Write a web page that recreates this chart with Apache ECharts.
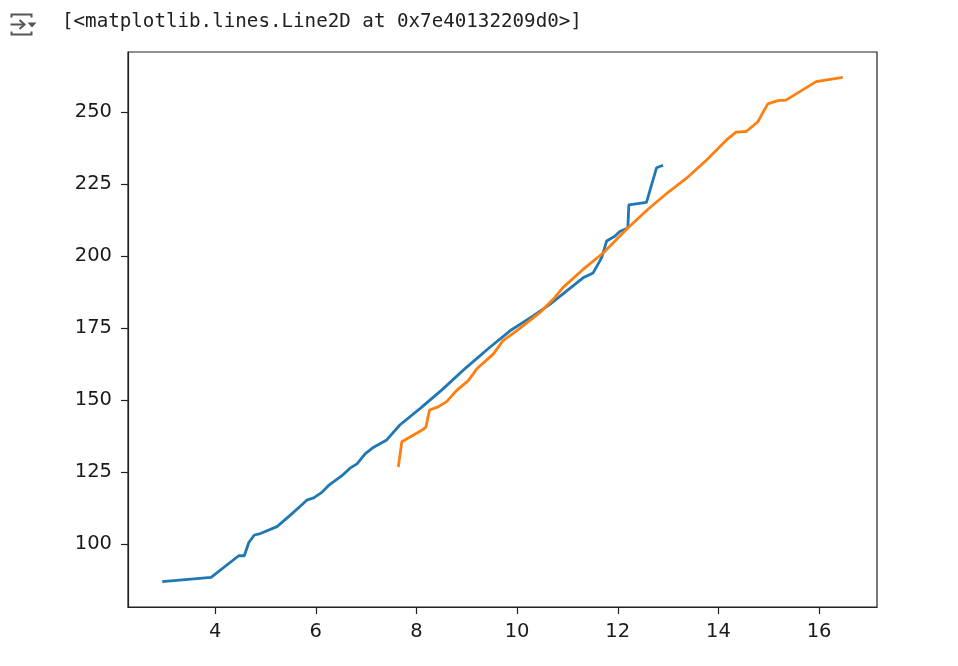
<!DOCTYPE html>
<html>
<head>
<meta charset="utf-8">
<script src="https://cdn.jsdelivr.net/npm/echarts@6/dist/echarts.min.js"></script>
<style>
html,body{margin:0;padding:0;background:#fff;}
#c{width:958px;height:666px;}
</style>
</head>
<body>
<div id="c"></div>
<script>
const headerText = "[<matplotlib.lines.Line2D at 0x7e40132209d0>]";
const xTicks = [4, 6, 8, 10, 12, 14, 16];
const yTicks = [100, 125, 150, 175, 200, 225, 250];
const blueSeries = [
  [2.95,87.0],[3.92,88.5],[4.47,96.0],[4.58,96.0],[4.67,100.6],[4.78,103.2],[4.90,103.7],
  [5.23,106.1],[5.49,110.0],[5.73,113.8],[5.82,115.3],[5.96,116.1],[6.12,118.0],[6.25,120.3],
  [6.52,123.8],[6.68,126.4],[6.82,127.9],[6.98,131.4],[7.15,133.7],[7.41,136.2],[7.67,141.4],
  [8.10,147.5],[8.50,153.5],[9.00,161.5],[9.46,168.4],[9.86,174.1],[10.32,179.3],[10.65,183.3],
  [10.98,187.9],[11.31,192.5],[11.51,194.2],[11.68,199.5],[11.78,205.3],[11.94,206.9],
  [12.04,208.6],[12.20,209.8],[12.22,217.8],[12.57,218.7],[12.77,230.7],[12.90,231.6]
];
const orangeSeries = [
  [7.64,126.8],[7.71,135.6],[8.14,139.9],[8.19,140.8],[8.26,146.6],[8.43,147.7],[8.60,149.5],
  [8.80,153.4],[9.03,156.8],[9.20,160.9],[9.53,166.1],[9.72,170.7],[9.99,174.1],[10.45,180.4],
  [10.72,185.1],[10.91,189.1],[11.31,195.4],[11.71,201.1],[12.20,209.8],[12.60,216.3],
  [13.00,222.2],[13.36,227.0],[13.76,233.3],[14.15,240.2],[14.35,243.1],[14.55,243.3],
  [14.78,246.6],[14.98,252.9],[15.18,254.0],[15.34,254.2],[15.94,260.6],[16.47,262.1]
];

const chart = echarts.init(document.getElementById('c'), null, {renderer:'canvas'});
const labelStyle = {color:'#1a1a1a', fontSize:19.5, fontFamily:'DejaVu Sans'};
chart.setOption({
  animation:false,
  backgroundColor:'#fff',
  grid:{left:128, right:81, top:52, bottom:59, show:true, borderColor:'#222', borderWidth:1.2, containLabel:false},
  xAxis:{
    type:'value', min:2.27, max:17.15,
    axisLine:{show:true, lineStyle:{color:'#222', width:1.2}},
    axisTick:{show:true, length:7, lineStyle:{color:'#222', width:1.2}, customValues:xTicks},
    axisLabel:Object.assign({margin:15, customValues:xTicks}, labelStyle),
    splitLine:{show:false}
  },
  yAxis:{
    type:'value', min:78.2, max:270.9,
    axisLine:{show:true, lineStyle:{color:'#222', width:1.2}},
    axisTick:{show:true, length:7, lineStyle:{color:'#222', width:1.2}, customValues:yTicks},
    axisLabel:Object.assign({margin:16, customValues:yTicks}, labelStyle),
    splitLine:{show:false}
  },
  graphic:[
    {type:'text', left:62, top:13, style:{text:headerText, fill:'#212121', fontSize:19.2, fontFamily:'DejaVu Sans Mono'}},
    {type:'group', left:8, top:12, children:[
      {type:'polyline', shape:{points:[[2,5],[2,2],[22,2],[22,5]]}, style:{stroke:'#555', lineWidth:2, fill:null}},
      {type:'polyline', shape:{points:[[2,19],[2,22],[22,22],[22,19]]}, style:{stroke:'#555', lineWidth:2, fill:null}},
      {type:'line', shape:{x1:1, y1:12, x2:15, y2:12}, style:{stroke:'#555', lineWidth:2}},
      {type:'polyline', shape:{points:[[10,7.5],[15,12],[10,16.5]]}, style:{stroke:'#555', lineWidth:2, fill:null}},
      {type:'polygon', shape:{points:[[18,10],[27,10],[22.5,15]]}, style:{fill:'#555'}}
    ]}
  ],
  series:[
    {type:'line', data:blueSeries, showSymbol:false, lineStyle:{color:'#1f77b4', width:2.8}, itemStyle:{color:'#1f77b4'}},
    {type:'line', data:orangeSeries, showSymbol:false, lineStyle:{color:'#ff7f0e', width:2.8}, itemStyle:{color:'#ff7f0e'}}
  ]
});
</script>
</body>
</html>
